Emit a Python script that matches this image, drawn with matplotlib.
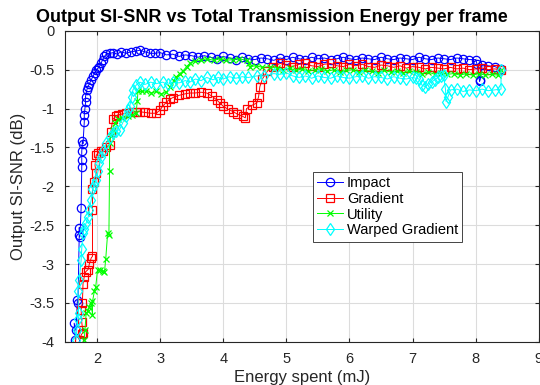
import numpy as np
import matplotlib
matplotlib.use('Agg')
import matplotlib.pyplot as plt

plt.rcParams['font.family'] = ['Liberation Sans', 'DejaVu Sans']

# Impact
impact_x = [1.66, 1.64, 1.67, 1.69, 1.70, 1.72, 1.72, 1.73, 1.75, 1.76, 1.76, 1.76, 1.77, 1.78,
            1.80, 1.80, 1.81, 1.82, 1.82, 1.84, 1.86, 1.88, 1.91, 1.94, 1.97, 1.99, 2.02, 2.04,
            2.07, 2.09, 2.12, 2.15, 2.20, 2.26, 2.32, 2.38, 2.46, 2.54, 2.62, 2.68, 2.76, 2.84,
            2.92, 3.0, 3.1, 3.2, 3.3, 3.4, 3.5, 3.6, 3.7, 3.8, 3.9, 4.0, 4.1, 4.2, 4.3, 4.4,
            4.5, 4.6, 4.7, 4.8, 4.9, 5.0, 5.1, 5.2, 5.3, 5.4, 5.5, 5.6, 5.7, 5.8, 5.9, 6.0,
            6.1, 6.2, 6.3, 6.4, 6.5, 6.6, 6.7, 6.8, 6.9, 7.0, 7.1, 7.2, 7.3, 7.4, 7.5, 7.6,
            7.7, 7.8, 7.9, 8.0, 8.02, 8.06, 8.07, 8.1, 8.2, 8.3, 8.4]
impact_y = [-3.97, -3.76, -3.85, -3.46, -3.50, -2.62, -2.53, -2.65, -2.28, -1.75, -1.66, -1.55, -1.42, -1.45,
            -1.17, -1.08, -1.00, -0.92, -0.845, -0.76, -0.72, -0.68, -0.63, -0.58, -0.54, -0.50, -0.48, -0.46,
            -0.41, -0.37, -0.33, -0.30, -0.29, -0.28, -0.30, -0.27, -0.29, -0.27, -0.26, -0.25, -0.27, -0.29,
            -0.29, -0.28, -0.31, -0.30, -0.33, -0.31, -0.32, -0.34, -0.32, -0.34, -0.36, -0.33, -0.35, -0.37, -0.34, -0.36,
            -0.37, -0.35, -0.36, -0.38, -0.35, -0.37, -0.34, -0.36, -0.37, -0.34, -0.36, -0.35, -0.37, -0.36, -0.34, -0.36,
            -0.37, -0.35, -0.36, -0.37, -0.34, -0.36, -0.37, -0.35, -0.36, -0.37, -0.34, -0.36, -0.37, -0.35, -0.36, -0.37,
            -0.35, -0.36, -0.37, -0.37, -0.43, -0.65, -0.63, -0.44, -0.45, -0.46, -0.49]

# Gradient
grad_x = [1.72, 1.76, 1.78, 1.76, 1.75, 1.77, 1.78, 1.80, 1.82, 1.86, 1.88, 1.91, 1.93, 1.93, 1.93,
          1.96, 1.99, 1.97, 1.99, 2.02, 2.06, 2.09, 2.14, 2.20, 2.22, 2.25, 2.30, 2.33, 2.40, 2.46,
          2.55, 2.62, 2.68, 2.76, 2.85, 2.94, 3.0, 3.04, 3.10, 3.15, 3.20, 3.3, 3.4, 3.47, 3.55,
          3.65, 3.74, 3.82, 3.90, 3.95, 4.0, 4.08, 4.16, 4.22, 4.31, 4.35, 4.37, 4.45, 4.53, 4.56,
          4.58, 4.62, 4.70, 4.79, 4.9, 5.0, 5.1, 5.2, 5.3, 5.4, 5.5, 5.6, 5.7, 5.8, 5.9, 6.0,
          6.1, 6.2, 6.3, 6.4, 6.5, 6.6, 6.7, 6.8, 6.9, 7.0, 7.1, 7.2, 7.3, 7.4, 7.5, 7.6, 7.7,
          7.8, 7.9, 8.0, 8.1, 8.2, 8.3, 8.4]
grad_y = [-3.97, -3.90, -3.88, -3.75, -3.59, -3.50, -3.25, -3.16, -3.10, -3.07, -3.00, -2.92, -2.90, -2.30, -2.04,
          -1.95, -1.83, -1.73, -1.60, -1.57, -1.55, -1.55, -1.50, -1.47, -1.30, -1.14, -1.10, -1.08, -1.07, -1.06,
          -1.05, -1.04, -1.04, -1.05, -1.06, -1.06, -1.02, -0.97, -0.92, -0.88, -0.86, -0.83, -0.81, -0.80, -0.80,
          -0.79, -0.80, -0.84, -0.89, -0.93, -0.97, -1.01, -1.04, -1.07, -1.10, -1.12, -1.00, -0.96, -0.93, -0.85,
          -0.72, -0.62, -0.52, -0.46, -0.42, -0.44, -0.46, -0.43, -0.42, -0.45, -0.46, -0.43, -0.42, -0.45, -0.46, -0.43,
          -0.45, -0.43, -0.46, -0.47, -0.44, -0.45, -0.47, -0.45, -0.48, -0.46, -0.47, -0.49, -0.47, -0.48, -0.49, -0.47, -0.49,
          -0.48, -0.50, -0.49, -0.48, -0.50, -0.49, -0.50]

# Utility
util_x = [1.80, 1.81, 1.83, 1.86, 1.88, 1.91, 1.93, 1.93, 1.96, 1.98, 2.01, 2.05, 2.09, 2.12, 2.14,
          2.17, 2.19, 2.20, 2.20, 2.22, 2.25, 2.29, 2.33, 2.40, 2.49, 2.55, 2.62, 2.64, 2.65, 2.72,
          2.78, 2.86, 2.94, 3.02, 3.10, 3.16, 3.22, 3.26, 3.31, 3.36, 3.42, 3.47, 3.55, 3.65, 3.74,
          3.85, 3.95, 4.05, 4.15, 4.25, 4.37, 4.41, 4.43, 4.52, 4.62, 4.74, 4.85, 4.95, 5.05, 5.15,
          5.25, 5.35, 5.45, 5.55, 5.65, 5.75, 5.85, 5.95, 6.05, 6.15, 6.25, 6.35, 6.45, 6.55, 6.65,
          6.75, 6.85, 6.95, 7.05, 7.15, 7.25, 7.35, 7.45, 7.55, 7.65, 7.75, 7.85, 7.95, 8.05, 8.15,
          8.25, 8.35, 8.4]
util_y = [-3.97, -3.85, -3.63, -3.60, -3.55, -3.50, -3.65, -3.48, -3.35, -3.30, -3.07, -3.08, -3.09, -3.10, -2.93,
          -2.60, -2.62, -1.80, -1.44, -1.35, -1.27, -1.18, -1.14, -1.12, -1.10, -1.08, -1.06, -0.90, -0.78, -0.78,
          -0.77, -0.80, -0.78, -0.81, -0.79, -0.72, -0.64, -0.59, -0.55, -0.52, -0.46, -0.42, -0.39, -0.38, -0.36,
          -0.38, -0.36, -0.38, -0.37, -0.36, -0.38, -0.42, -0.46, -0.45, -0.47, -0.46, -0.48, -0.50, -0.48, -0.51,
          -0.49, -0.52, -0.50, -0.49, -0.52, -0.50, -0.53, -0.51, -0.50, -0.53, -0.51, -0.52, -0.54, -0.51, -0.53,
          -0.52, -0.54, -0.52, -0.53, -0.55, -0.53, -0.56, -0.54, -0.56, -0.55, -0.57, -0.55, -0.57, -0.55, -0.57,
          -0.56, -0.57, -0.50]

# Warped Gradient
warp_x = [1.67, 1.68, 1.70, 1.71, 1.70, 1.72, 1.75, 1.76, 1.78, 1.80, 1.83, 1.86, 1.88, 1.91, 1.93,
          1.96, 1.99, 2.02, 2.04, 2.07, 2.10, 2.15, 2.20, 2.25, 2.30, 2.36, 2.41, 2.46, 2.50, 2.52,
          2.55, 2.57, 2.62, 2.68, 2.76, 2.85, 2.94, 3.04, 3.12, 3.20, 3.30, 3.40, 3.47, 3.56, 3.65,
          3.74, 3.84, 3.92, 4.0, 4.1, 4.2, 4.3, 4.4, 4.53, 4.65, 4.8, 4.9, 5.0, 5.1, 5.2, 5.3,
          5.4, 5.5, 5.6, 5.7, 5.8, 5.9, 6.0, 6.1, 6.2, 6.3, 6.4, 6.5, 6.6, 6.7, 6.8, 6.9, 7.0,
          7.05, 7.1, 7.15, 7.2, 7.25, 7.3, 7.35, 7.40, 7.45, 7.49, 7.52, 7.53, 7.56, 7.6, 7.7, 7.8,
          7.9, 8.0, 8.1, 8.2, 8.3, 8.4, 8.4]
warp_y = [-3.97, -3.85, -3.70, -3.63, -3.35, -3.20, -2.95, -2.80, -2.60, -2.55, -2.47, -2.40, -2.30, -2.17, -2.04,
          -1.98, -1.92, -1.80, -1.70, -1.62, -1.55, -1.44, -1.37, -1.31, -1.29, -1.27, -1.18, -1.10, -1.02, -0.97,
          -0.85, -0.76, -0.70, -0.66, -0.69, -0.66, -0.68, -0.66, -0.69, -0.66, -0.67, -0.64, -0.66, -0.62, -0.64,
          -0.60, -0.63, -0.60, -0.62, -0.59, -0.61, -0.59, -0.60, -0.58, -0.58, -0.55, -0.56, -0.54, -0.58, -0.60, -0.58,
          -0.61, -0.58, -0.60, -0.61, -0.58, -0.60, -0.61, -0.59, -0.58, -0.61, -0.59, -0.60, -0.62, -0.59, -0.61, -0.62, -0.60,
          -0.61, -0.62, -0.70, -0.72, -0.68, -0.66, -0.63, -0.60, -0.58, -0.57, -0.75, -0.91, -0.85, -0.76, -0.75, -0.78,
          -0.76, -0.77, -0.75, -0.77, -0.76, -0.75, -0.50]

fig = plt.figure(figsize=(5.4, 3.85), dpi=100)
ax = fig.add_axes([0.121, 0.112, 0.877, 0.808])

ms = 6
lw = 0.7
mew = 0.9
ax.plot(impact_x, impact_y, '-o', color='#0000ff', mfc='none', ms=ms, lw=lw, mew=mew, label='Impact')
ax.plot(grad_x, grad_y, '-s', color='#ff0000', mfc='none', ms=ms - 0.5, lw=lw, mew=mew, label='Gradient')
ax.plot(util_x, util_y, '-x', color='#00ff00', ms=ms - 1, lw=lw, mew=mew, label='Utility')
ax.plot(warp_x, warp_y, '-d', color='#00ffff', mfc='none', ms=ms, lw=lw, mew=mew, label='Warped Gradient')

ax.set_xlim(1.5, 9)
ax.set_ylim(-4, 0)
ax.set_xticks([2, 3, 4, 5, 6, 7, 8, 9])
ax.set_yticks([-4, -3.5, -3, -2.5, -2, -1.5, -1, -0.5, 0])
ax.set_yticklabels(['-4', '-3.5', '-3', '-2.5', '-2', '-1.5', '-1', '-0.5', '0'])
ax.grid(True, color='#dcdcdc', lw=0.8)
ax.set_axisbelow(True)
ax.tick_params(direction='in', top=True, right=True, labelsize=10.5, colors='#262626', length=3)
ax.tick_params(axis='y', pad=8)
ax.tick_params(axis='x', pad=7)
for s in ax.spines.values():
    s.set_color('#262626')
    s.set_linewidth(0.8)

fig.text(0.503, 0.955, 'Output SI-SNR vs Total Transmission Energy per frame', fontsize=13,
         fontweight='bold', ha='center', va='center')
ax.set_xlabel('Energy spent (mJ)', fontsize=12, color='#262626', labelpad=3)
ax.set_ylabel('Output SI-SNR (dB)', fontsize=12, color='#262626', labelpad=2)

leg = ax.legend(loc='upper left', bbox_to_anchor=(0.522, 0.547), fontsize=10.5, fancybox=False,
                framealpha=1, edgecolor='#262626', labelspacing=0.12, handlelength=1.8,
                handletextpad=0.25, borderpad=0.3, borderaxespad=0)
leg.get_frame().set_linewidth(0.6)

fig.savefig('out.png', dpi=100)
